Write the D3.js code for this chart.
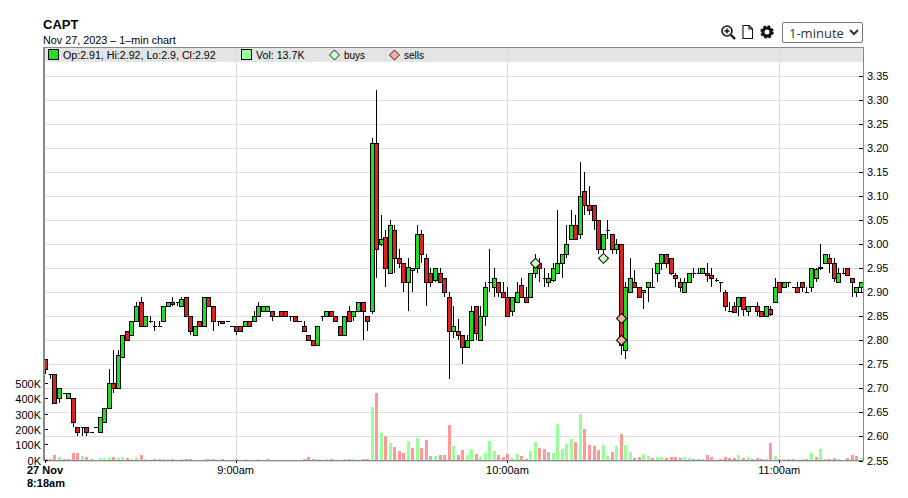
<!DOCTYPE html>
<html>
<head>
<meta charset="utf-8">
<script src="https://cdn.jsdelivr.net/npm/d3@7/dist/d3.min.js"></script>
<style>
html,body{margin:0;padding:0;background:#fff;width:908px;height:498px;overflow:hidden}
#wrap{position:relative;width:908px;height:498px}
svg{position:absolute;left:0;top:0}
select{position:absolute;left:782px;top:22px;width:81px;height:21px;font:13px "Open Sans","Liberation Sans",sans-serif;color:#333;background:#fff;border:1px solid #767676;border-radius:2px;padding:0 0 0 2px;z-index:2}
text{font-family:"Liberation Sans",Arial,sans-serif;fill:#000}
</style>
</head>
<body>
<div id="wrap">
<select><option>1-minute</option></select>
</div>
<script>
const title = "CAPT";
const subtitle = "Nov 27, 2023 \u2013 1\u2013min chart";
const legendOhlc = "Op:2.91, Hi:2.92, Lo:2.9, Cl:2.92";
const legendVol = "Vol: 13.7K";
const priceTicks = [2.55,2.60,2.65,2.70,2.75,2.80,2.85,2.90,2.95,3.00,3.05,3.10,3.15,3.20,3.25,3.30,3.35];
const volumeTicks = [0,100,200,300,400,500];
const timeTickMinutes = [42,102,162];
const timeTickLabels = ["9:00am","10:00am","11:00am"];
const startLabels = ["27 Nov","8:18am"];

const opens = [
2.76,2.73,2.73,2.68,2.69,2.68,2.68,2.62,2.62,2.62,
2.61,2.62,2.61,2.63,2.66,2.71,2.70,2.765,2.82,2.81,
2.84,2.88,2.83,2.84,2.83,2.83,2.84,2.87,2.88,2.88,
2.87,2.89,2.85,2.81,2.84,2.83,2.89,2.87,2.84,2.84,
2.84,2.83,2.83,2.83,2.83,2.84,2.84,2.85,2.86,2.86,
2.86,2.85,2.86,2.86,2.85,2.85,2.84,2.83,2.81,2.80,
2.79,2.85,2.85,2.86,2.85,2.83,2.81,2.86,2.85,2.86,
2.88,2.85,2.86,3.21,3.00,3.015,2.94,3.03,2.97,2.96,
2.92,2.945,2.95,3.02,2.97,2.94,2.925,2.94,2.93,2.89,
2.82,2.82,2.81,2.785,2.80,2.87,2.80,2.85,2.92,2.91,
2.92,2.90,2.89,2.86,2.88,2.915,2.89,2.89,2.94,2.96,
2.93,2.92,2.925,2.94,2.96,2.98,3.01,3.04,3.02,3.11,
3.08,3.08,3.05,2.99,3.03,3.02,2.99,3.00,2.78,2.90,
2.92,2.91,2.90,2.91,2.91,2.94,2.96,2.98,2.97,2.935,
2.92,2.90,2.92,2.94,2.94,2.94,2.94,2.935,2.925,2.92,
2.90,2.86,2.87,2.87,2.89,2.86,2.87,2.87,2.86,2.85,
2.865,2.88,2.92,2.91,2.92,2.91,2.91,2.92,2.90,2.91,
2.93,2.952,2.96,2.97,2.96,2.92,2.94,2.95,2.93,2.90,2.91];

const highs = [
2.76,2.73,2.73,2.70,2.69,2.69,2.68,2.62,2.62,2.62,
2.61,2.62,2.64,2.66,2.74,2.78,2.78,2.81,2.82,2.84,
2.88,2.89,2.85,2.85,2.84,2.84,2.87,2.88,2.89,2.88,
2.89,2.89,2.85,2.83,2.84,2.89,2.89,2.87,2.84,2.84,
2.84,2.83,2.83,2.83,2.84,2.84,2.86,2.88,2.87,2.87,
2.86,2.85,2.86,2.86,2.85,2.85,2.84,2.84,2.81,2.80,
2.83,2.85,2.86,2.86,2.85,2.83,2.85,2.87,2.86,2.88,
2.88,2.85,3.22,3.32,3.06,3.03,3.05,3.04,2.99,2.96,
2.97,2.95,3.04,3.03,2.98,2.95,2.95,2.95,2.93,2.90,
2.87,2.845,2.81,2.81,2.87,2.87,2.87,2.92,2.99,2.95,
2.92,2.92,2.91,2.89,2.92,2.93,2.91,2.94,2.98,2.97,
2.95,2.94,2.96,3.07,2.98,3.04,3.07,3.06,3.17,3.15,
3.12,3.08,3.05,3.02,3.05,3.02,3.01,3.00,2.92,2.97,
2.945,2.91,2.905,2.92,2.95,2.96,2.98,2.98,2.97,2.94,
2.93,2.93,2.94,2.95,2.95,2.95,2.96,2.95,2.93,2.92,
2.905,2.88,2.88,2.89,2.89,2.87,2.87,2.88,2.86,2.87,
2.87,2.93,2.92,2.92,2.92,2.91,2.92,2.92,2.91,2.95,
2.95,3.00,2.98,2.98,2.97,2.95,2.95,2.95,2.93,2.91,2.92];

const lows = [
2.73,2.72,2.67,2.67,2.69,2.68,2.62,2.60,2.60,2.60,
2.61,2.62,2.61,2.63,2.66,2.69,2.70,2.765,2.80,2.81,
2.84,2.83,2.83,2.835,2.82,2.83,2.84,2.87,2.87,2.87,
2.87,2.85,2.81,2.81,2.83,2.83,2.87,2.82,2.83,2.835,
2.84,2.83,2.81,2.82,2.83,2.83,2.84,2.85,2.86,2.86,
2.84,2.85,2.85,2.85,2.84,2.84,2.84,2.82,2.80,2.79,
2.79,2.84,2.85,2.85,2.84,2.81,2.81,2.84,2.84,2.86,
2.80,2.82,2.855,2.93,2.995,2.91,2.94,2.94,2.95,2.90,
2.86,2.90,2.94,2.96,2.87,2.91,2.92,2.92,2.89,2.72,
2.805,2.80,2.75,2.785,2.80,2.80,2.80,2.83,2.90,2.89,
2.89,2.89,2.85,2.85,2.88,2.89,2.88,2.89,2.93,2.92,
2.91,2.91,2.92,2.94,2.93,2.97,3.01,3.01,3.01,3.06,
3.06,3.03,2.98,2.98,3.01,2.98,2.98,2.77,2.76,2.90,
2.91,2.89,2.865,2.88,2.91,2.92,2.945,2.95,2.935,2.91,
2.90,2.90,2.92,2.93,2.94,2.94,2.92,2.91,2.92,2.90,
2.86,2.86,2.858,2.85,2.85,2.85,2.87,2.85,2.85,2.85,
2.85,2.88,2.90,2.91,2.91,2.91,2.90,2.90,2.90,2.90,
2.92,2.945,2.96,2.94,2.92,2.92,2.94,2.935,2.89,2.89,2.90];

const closes = [
2.74,2.73,2.67,2.70,2.69,2.69,2.63,2.61,2.62,2.61,
2.61,2.62,2.64,2.66,2.71,2.70,2.77,2.81,2.80,2.84,
2.87,2.83,2.85,2.84,2.83,2.83,2.87,2.88,2.875,2.88,
2.885,2.85,2.82,2.83,2.83,2.89,2.87,2.84,2.84,2.835,
2.84,2.83,2.82,2.82,2.84,2.83,2.85,2.87,2.87,2.87,
2.85,2.85,2.85,2.85,2.85,2.84,2.84,2.82,2.80,2.79,
2.83,2.85,2.86,2.85,2.84,2.81,2.85,2.84,2.86,2.88,
2.86,2.84,3.21,2.99,3.01,2.95,3.04,2.97,2.96,2.92,
2.952,2.95,3.02,2.98,2.92,2.92,2.95,2.92,2.90,2.82,
2.83,2.81,2.785,2.80,2.86,2.815,2.85,2.91,2.92,2.93,
2.90,2.89,2.85,2.89,2.90,2.89,2.88,2.94,2.955,2.95,
2.93,2.93,2.95,2.96,2.98,3.00,3.04,3.01,3.10,3.08,
3.07,3.05,2.99,3.02,3.03,2.99,3.00,2.79,2.91,2.93,
2.91,2.89,2.905,2.92,2.91,2.96,2.98,2.96,2.94,2.93,
2.91,2.92,2.94,2.94,2.94,2.95,2.935,2.93,2.925,2.92,
2.87,2.86,2.858,2.89,2.865,2.87,2.87,2.86,2.85,2.87,
2.855,2.91,2.90,2.92,2.92,2.91,2.90,2.91,2.90,2.95,
2.947,2.95,2.98,2.96,2.93,2.94,2.94,2.935,2.92,2.91,2.92];

const volumes = [
9,9,35,26,7,7,48,48,28,26,
7,0,15,15,20,20,15,20,15,13,
20,35,7,0,7,7,7,7,13,0,
7,7,9,0,0,13,7,7,0,7,
0,0,7,0,7,0,0,7,0,7,
0,0,0,0,0,0,0,9,26,9,
7,0,7,13,0,0,7,7,7,0,
13,7,349,440,179,157,113,87,61,48,
126,81,146,81,133,28,28,35,35,231,
94,35,68,35,74,41,22,48,126,61,
35,22,41,15,41,28,9,61,120,81,
74,54,48,238,74,107,140,120,303,205,
100,94,68,100,28,54,94,172,100,54,
15,22,41,28,15,22,22,15,22,22,
15,22,15,7,7,7,35,22,0,9,
22,15,15,35,15,22,7,15,9,7,
113,28,9,7,7,9,0,7,9,48,
22,74,9,9,15,9,0,15,35,28,14];

const buyMinutes = [108,123];
const buyPrices = [2.96,2.97];
const sellMinutes = [127,127];
const sellPrices = [2.845,2.80];

const C = {green:"#22dd22",red:"#dd2222",volUp:"#99ff99",volDown:"#ff9999",volFlat:"#bbbbbb",
  grid:"#dcdcdc",border:"#888888",band:"#e4e4e4",buy:"#ccffcc",sell:"#ffaaaa"};

const plotL=44, plotR=863, plotT=48, plotB=460.5;
const x = d3.scaleLinear().domain([0,180]).range([45.4,860.8]);
const y = d3.scaleLinear().domain([2.55,3.35]).range([460.5,75.5]);
const yv = d3.scaleLinear().domain([0,500]).range([460.5,384]);

const svg = d3.select("#wrap").append("svg").attr("width",908).attr("height",498).style("z-index",0);
const crisp = s => s.attr("shape-rendering","crispEdges");

// legend band
crisp(svg.append("rect").attr("x",plotL).attr("y",plotT).attr("width",plotR-plotL).attr("height",13.5).attr("fill",C.band));

// grid
const gGrid = crisp(svg.append("g"));
gGrid.selectAll("line.h").data(priceTicks).join("line").attr("class","h")
  .attr("x1",plotL).attr("x2",plotR).attr("y1",d=>Math.round(y(d))).attr("y2",d=>Math.round(y(d)))
  .attr("stroke",C.grid);
gGrid.selectAll("line.v").data(timeTickMinutes).join("line").attr("class","v")
  .attr("x1",d=>Math.round(x(d))).attr("x2",d=>Math.round(x(d))).attr("y1",plotT).attr("y2",plotB)
  .attr("stroke",C.grid);

const idx = d3.range(opens.length);

// volumes
crisp(svg.append("g")).selectAll("rect").data(idx.filter(i=>volumes[i]>0)).join("rect")
  .attr("x",i=>Math.round(x(i))-1)
  .attr("width",3)
  .attr("y",i=>yv(volumes[i]))
  .attr("height",i=>yv(0)-yv(volumes[i]))
  .attr("fill",i=>{
    if(i===0) return C.volDown;
    return closes[i]>closes[i-1]?C.volUp:closes[i]<closes[i-1]?C.volDown:C.volFlat;
  });

// candles: wick, then body as a closed path so a doji still draws as a dash
const gC = crisp(svg.append("g"));
gC.selectAll("line").data(idx).join("line")
  .attr("x1",i=>Math.round(x(i))+0.5).attr("x2",i=>Math.round(x(i))+0.5)
  .attr("y1",i=>Math.round(y(highs[i]))).attr("y2",i=>Math.round(y(lows[i])))
  .attr("stroke","#000");
gC.selectAll("path").data(idx).join("path")
  .attr("d",i=>{
    const cx=Math.round(x(i))-1.5;
    const t=Math.round(y(Math.max(opens[i],closes[i])))+0.5;
    const h=Math.abs(Math.round(y(opens[i]))-Math.round(y(closes[i])));
    return `M${cx} ${t}h4v${h}h-4Z`;
  })
  .attr("fill",i=>closes[i]<opens[i]?C.red:C.green)
  .attr("stroke","#000");

// markers
const diamond = d3.symbol().type(d3.symbolSquare).size(50);
function markers(ms,ps,fill){
  svg.append("g").selectAll("path").data(ms.map((m,i)=>[m,ps[i]])).join("path")
    .attr("d",diamond)
    .attr("transform",d=>`translate(${Math.round(x(d[0]))+0.5},${y(d[1])}) rotate(45)`)
    .attr("fill",fill).attr("stroke","#000").attr("stroke-width",1);
}
markers(buyMinutes,buyPrices,C.buy);
markers(sellMinutes,sellPrices,C.sell);

// frame
crisp(svg.append("g")).call(g=>{
  g.append("line").attr("x1",plotL).attr("x2",plotL).attr("y1",47).attr("y2",461).attr("stroke",C.border).attr("stroke-width",2);
  g.append("line").attr("x1",plotL).attr("x2",plotR+0.5).attr("y1",47.5).attr("y2",47.5).attr("stroke",C.border);
  g.append("line").attr("x1",plotR+0.5).attr("x2",plotR+0.5).attr("y1",47).attr("y2",461).attr("stroke",C.border);
  g.append("line").attr("x1",plotL).attr("x2",plotR+0.5).attr("y1",460.5).attr("y2",460.5).attr("stroke",C.border);
});

// axes
const axisFont = 11;
const gR = svg.append("g");
crisp(gR.selectAll("line").data(priceTicks).join("line"))
  .attr("x1",plotR-4).attr("x2",plotR).attr("y1",d=>Math.round(y(d))+0.5).attr("y2",d=>Math.round(y(d))+0.5).attr("stroke","#000");
gR.selectAll("text").data(priceTicks).join("text")
  .attr("x",867).attr("y",d=>y(d)+4).attr("font-size",axisFont).text(d3.format(".2f"));

const gL = svg.append("g");
crisp(gL.selectAll("line").data(volumeTicks).join("line"))
  .attr("x1",45).attr("x2",48).attr("y1",d=>Math.round(yv(d))-0.5).attr("y2",d=>Math.round(yv(d))-0.5).attr("stroke","#000");
gL.selectAll("text").data(volumeTicks).join("text")
  .attr("x",41).attr("text-anchor","end").attr("y",d=>yv(d)+4).attr("font-size",axisFont).text(d=>d+"K");

const gB = svg.append("g");
crisp(gB.selectAll("line").data([0].concat(timeTickMinutes)).join("line"))
  .attr("x1",d=>Math.round(x(d))+0.5).attr("x2",d=>Math.round(x(d))+0.5).attr("y1",461).attr("y2",463).attr("stroke","#000");
gB.selectAll("text.t").data(timeTickMinutes).join("text").attr("class","t")
  .attr("x",d=>x(d)).attr("y",474).attr("text-anchor","middle").attr("font-size",axisFont)
  .text((d,i)=>timeTickLabels[i]);
gB.selectAll("text.s").data(startLabels).join("text").attr("class","s")
  .attr("x",27).attr("y",(d,i)=>474+i*13).attr("font-size",axisFont).attr("font-weight","bold").text(d=>d);

// titles
svg.append("text").attr("x",43).attr("y",29).attr("font-size",13).attr("font-weight","bold").text(title);
svg.append("text").attr("x",43).attr("y",44).attr("font-size",10.8).text(subtitle);

// legend
const gLeg = svg.append("g");
crisp(gLeg.append("rect")).attr("x",48.5).attr("y",49.5).attr("width",10).attr("height",10).attr("fill",C.green).attr("stroke","#000");
gLeg.append("text").attr("x",63).attr("y",59).attr("font-size",10.65).text(legendOhlc);
crisp(gLeg.append("rect")).attr("x",241.5).attr("y",49.5).attr("width",10).attr("height",10).attr("fill",C.volUp).attr("stroke","#000");
gLeg.append("text").attr("x",256).attr("y",59).attr("font-size",10.65).text(legendVol);
gLeg.append("path").attr("d",diamond).attr("transform","translate(334.5,55) rotate(45)").attr("fill",C.buy).attr("stroke","#000").attr("stroke-width",0.8);
gLeg.append("text").attr("x",344).attr("y",59).attr("font-size",10).text("buys");
gLeg.append("path").attr("d",diamond).attr("transform","translate(394.5,55) rotate(45)").attr("fill",C.sell).attr("stroke","#000").attr("stroke-width",0.8);
gLeg.append("text").attr("x",404).attr("y",59).attr("font-size",10).text("sells");

// toolbar icons
const ic = svg.append("g").attr("fill","none").attr("stroke","#111");
ic.append("circle").attr("cx",727).attr("cy",31).attr("r",5).attr("stroke-width",1.6);
ic.append("path").attr("d","M731 35 L735 39").attr("stroke-width",2.4);
ic.append("path").attr("d","M724.5 31 H729.5 M727 28.5 V33.5").attr("stroke-width",1.4);
ic.append("path").attr("d","M743 25.5 H749 L752.5 29 V38.5 H743 Z M749 25.5 V29 H752.5").attr("stroke-width",1.1);
ic.append("circle").attr("cx",767).attr("cy",32).attr("r",4).attr("stroke-width",3);
ic.append("circle").attr("cx",767).attr("cy",32).attr("r",5.6).attr("stroke-width",2.2).attr("stroke-dasharray","2.6 1.8");
</script>
</body>
</html>
